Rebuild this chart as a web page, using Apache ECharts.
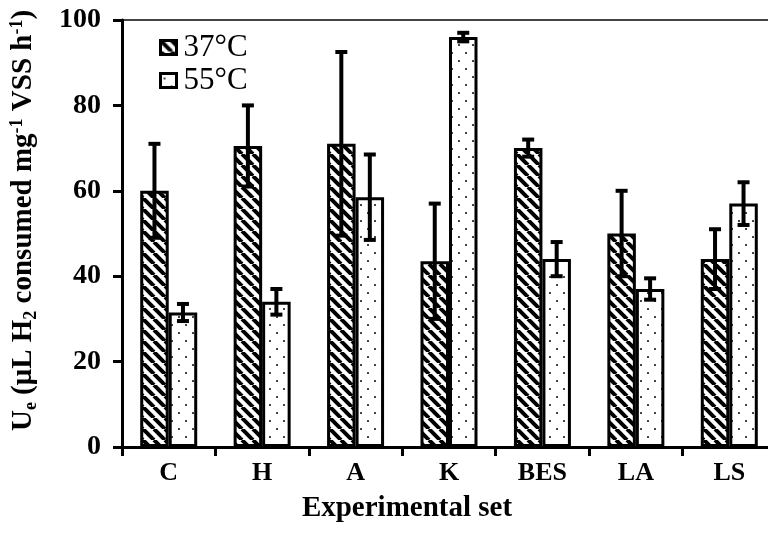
<!DOCTYPE html>
<html>
<head>
<meta charset="utf-8">
<script src="https://cdn.jsdelivr.net/npm/echarts@6/dist/echarts.min.js"></script>
<style>
  html, body { margin: 0; padding: 0; background: #fff; }
  #chart { width: 768px; height: 535px; }
</style>
</head>
<body>
<div id="chart"></div>
<script>
const categories = ['C', 'H', 'A', 'K', 'BES', 'LA', 'LS'];
const seriesNames = ['37°C', '55°C'];
const mean37 = [60, 70.5, 71, 43.5, 70, 50, 44];
const err37 = [11, 9.5, 21.5, 13.5, 2, 10, 7];
const mean55 = [31.5, 34, 58.5, 96, 44, 37, 57];
const err55 = [2, 3, 10, 1, 4, 2.5, 5];
const yTicks = [0, 20, 40, 60, 80, 100];

const FONT = '"Liberation Serif", "Times New Roman", serif';
const CAT_GAP = 0.39;

function stripePattern() {
    const s = 11;
    const c = document.createElement('canvas');
    c.width = s; c.height = s;
    const ctx = c.getContext('2d');
    ctx.fillStyle = '#fff';
    ctx.fillRect(0, 0, s, s);
    ctx.strokeStyle = '#000';
    ctx.lineWidth = 4;
    for (let k = -1; k <= 1; k++) {
        ctx.beginPath();
        ctx.moveTo(k * s, 0);
        ctx.lineTo(k * s + s, s);
        ctx.stroke();
    }
    return c;
}

function dotPattern() {
    const w = 14, h = 16;
    const c = document.createElement('canvas');
    c.width = w; c.height = h;
    const ctx = c.getContext('2d');
    ctx.fillStyle = '#fff';
    ctx.fillRect(0, 0, w, h);
    ctx.fillStyle = '#444';
    ctx.fillRect(3, 4, 2, 2);
    ctx.fillRect(10, 12, 2, 2);
    return c;
}

function errData(mean, err) {
    return mean.map((m, i) => [i, m - err[i], m + err[i]]);
}

function errRenderer(side) {
    return function (params, api) {
        const band = api.size([1, 0])[0];
        const bw = band * (1 - CAT_GAP) / 2;
        const lo = api.coord([api.value(0), api.value(1)]);
        const hi = api.coord([api.value(0), api.value(2)]);
        const x = lo[0] + side * bw / 2;
        const cap = 6;
        const style = { stroke: '#000', lineWidth: 4 };
        return {
            type: 'group',
            children: [
                { type: 'line', shape: { x1: x, y1: lo[1], x2: x, y2: hi[1] }, style: style },
                { type: 'line', shape: { x1: x - cap, y1: lo[1], x2: x + cap, y2: lo[1] }, style: style },
                { type: 'line', shape: { x1: x - cap, y1: hi[1], x2: x + cap, y2: hi[1] }, style: style }
            ]
        };
    };
}

const chart = echarts.init(document.getElementById('chart'));

const option = {
    backgroundColor: '#fff',
    animation: false,
    textStyle: { fontFamily: FONT, color: '#000' },
    grid: {
        left: 122, right: -8, top: 20, bottom: 88,
        outerBoundsMode: 'none',
        containLabel: false,
        show: true, borderColor: '#444', borderWidth: 2, backgroundColor: '#fff'
    },
    legend: {
        data: seriesNames,
        orient: 'vertical',
        left: 154, top: 27,
        icon: 'rect',
        itemWidth: 16, itemHeight: 14,
        itemGap: 2,
        itemStyle: { borderColor: '#000', borderWidth: 3 },
        textStyle: { fontFamily: FONT, fontSize: 31, color: '#000', padding: [0, 0, 0, 2] }
    },
    xAxis: {
        type: 'category',
        data: categories,
        name: 'Experimental set',
        nameLocation: 'middle',
        nameGap: 47,
        nameTextStyle: { fontFamily: FONT, fontWeight: 'bold', fontSize: 29, color: '#000', padding: [0, 84, 0, 0] },
        axisLine: { lineStyle: { color: '#000', width: 3 } },
        axisTick: { show: true, inside: false, length: 9, lineStyle: { color: '#000', width: 3 } },
        axisLabel: { fontFamily: FONT, fontWeight: 'bold', fontSize: 26, color: '#000', margin: 13 }
    },
    yAxis: {
        type: 'value',
        min: yTicks[0], max: yTicks[yTicks.length - 1], interval: 20,
        name: '{b|U}{sub|e}{b| (μL H}{sub|2}{b| consumed mg}{sup|-1}{b| VSS h}{sup|-1}{b|)}',
        nameLocation: 'middle',
        nameRotate: 90,
        nameGap: 82,
        nameTextStyle: {
            padding: [0, 0, 0, 26],
            rich: {
                b: { fontFamily: FONT, fontWeight: 'bold', fontSize: 29, color: '#000', lineHeight: 32 },
                sub: { fontFamily: FONT, fontWeight: 'bold', fontSize: 18, color: '#000', verticalAlign: 'bottom', lineHeight: 32 },
                sup: { fontFamily: FONT, fontWeight: 'bold', fontSize: 18, color: '#000', verticalAlign: 'top', lineHeight: 32 }
            }
        },
        splitLine: { show: false },
        axisLine: { show: true, lineStyle: { color: '#000', width: 3 } },
        axisTick: { show: true, inside: false, length: 9, lineStyle: { color: '#000', width: 3 } },
        axisLabel: { fontFamily: FONT, fontWeight: 'bold', fontSize: 28, color: '#000', margin: 21 }
    },
    series: [
        {
            name: seriesNames[0],
            type: 'bar',
            data: mean37,
            barGap: '0%',
            barCategoryGap: (CAT_GAP * 100) + '%',
            itemStyle: { color: { image: stripePattern(), repeat: 'repeat' }, borderColor: '#000', borderWidth: 3 }
        },
        {
            name: seriesNames[1],
            type: 'bar',
            data: mean55,
            barGap: '0%',
            barCategoryGap: (CAT_GAP * 100) + '%',
            itemStyle: { color: { image: dotPattern(), repeat: 'repeat' }, borderColor: '#000', borderWidth: 3 }
        },
        {
            name: 'err37',
            type: 'custom',
            renderItem: errRenderer(-1),
            data: errData(mean37, err37),
            encode: { x: 0, y: [1, 2] },
            z: 10,
            silent: true
        },
        {
            name: 'err55',
            type: 'custom',
            renderItem: errRenderer(1),
            data: errData(mean55, err55),
            encode: { x: 0, y: [1, 2] },
            z: 10,
            silent: true
        }
    ]
};

chart.setOption(option);
</script>
</body>
</html>
